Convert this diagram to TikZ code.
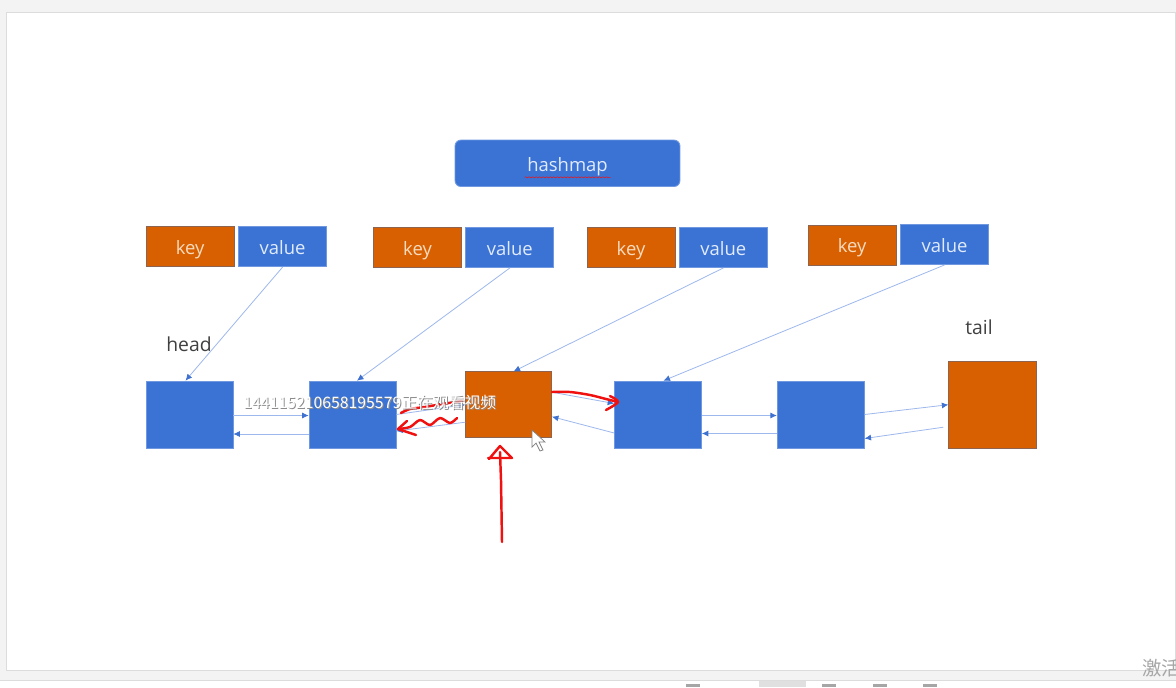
\documentclass[tikz,border=0pt]{standalone}
\usepackage{fontspec}
\setmainfont{Open Sans}
\newfontfamily\cjkfont{Noto Sans CJK SC}
\usepackage{tikz}
\usetikzlibrary{
    positioning,
    arrows.meta,
    decorations.pathmorphing,
}
\definecolor{slidegray}{HTML}{F3F3F3}
\definecolor{edgegray}{HTML}{DCDCDC}
\definecolor{boxblue}{HTML}{3A73D4}
\definecolor{boxorange}{HTML}{D96000}
\definecolor{keyedge}{HTML}{8C6450}
\definecolor{valueedge}{HTML}{6F98E0}
\definecolor{keytext}{HTML}{F7DCC0}
\definecolor{valuetext}{HTML}{E2EBFB}
\definecolor{linkblue}{HTML}{9DB8EC}
\definecolor{arrowblue}{HTML}{3F72D0}
\definecolor{captiongray}{HTML}{404040}
\definecolor{penred}{HTML}{F01010}
\tikzset{
    % Box styles
    kv box/.style={rectangle, minimum width=1.76cm, minimum height=0.8cm, inner sep=0pt,
                   font=\fontsize{10.5}{12}\selectfont, text height=0.9em, text depth=0pt,
                   line width=0.5pt},
    key box/.style={kv box, fill=boxorange, draw=keyedge, text=keytext},
    value box/.style={kv box, fill=boxblue, draw=valueedge, text=valuetext},
    list node/.style={rectangle, minimum width=1.74cm, minimum height=1.34cm, inner sep=0pt,
                      fill=boxblue, draw=valueedge, line width=0.4pt},
    list end/.style={list node, fill=boxorange, draw=keyedge},
    % Arrow styles
    link arrow/.style={-{Latex[length=1.3mm, width=1.2mm, color=arrowblue]}, draw=linkblue, line width=0.45pt},
    pen stroke/.style={draw=penred, line width=1.4pt, line cap=round, line join=round},
    % Annotation styles
    caption/.style={font=\fontsize{11}{13}\selectfont, text=captiongray},
    overlay text/.style={font=\cjkfont\fontsize{9}{10}\selectfont, anchor=west, inner sep=0pt},
}

\begin{document}
\begin{tikzpicture}[x=0.02cm, y=-0.02cm]
    \useasboundingbox (0, 0) rectangle (1176, 687);

    % Slide
    \fill[slidegray] (0, 0) rectangle (1176, 687);
    \fill[white] (0, 681) rectangle (1176, 687);
    \draw[edgegray] (0, 680) -- (1176, 680);
    \draw[edgegray, fill=white] (6, 12) rectangle (1175, 670);

    % Hashmap
    \node[kv box, rounded corners=0.12cm, fill=boxblue, draw=valueedge,
          minimum width=4.5cm, minimum height=0.93cm, text=valuetext] (hashmap) at (567.5, 163.3) {hashmap};
    \draw[penred, line width=0.3pt, decorate, decoration={snake, amplitude=0.3pt, segment length=2pt}]
        ([xshift=-0.86cm, yshift=-0.28cm]hashmap.center) -- ([xshift=0.86cm, yshift=-0.28cm]hashmap.center);

    % Entries
    \node[key box] (key1) at (190.2, 246.7) {key};
    \node[value box, right=0.07cm of key1] (val1) {value};
    \node[key box] (key2) at (417.5, 247.5) {key};
    \node[value box, right=0.07cm of key2] (val2) {value};
    \node[key box] (key3) at (631, 247.5) {key};
    \node[value box, right=0.07cm of key3] (val3) {value};
    \node[key box] (key4) at (852.2, 245) {key};
    \node[value box, right=0.07cm of key4, yshift=0.01cm] (val4) {value};

    % Linked list
    \node[list node] (node1) at (189.5, 414.5) {};
    \node[list node] (node2) at (352.5, 414.5) {};
    \node[list end, minimum width=1.72cm, minimum height=1.32cm] (node3) at (508.6, 404.7) {};
    \node[list node] (node4) at (658, 414.5) {};
    \node[list node] (node5) at (820.7, 414.5) {};
    \node[list end, minimum width=1.76cm, minimum height=1.74cm] (node6) at (992.7, 404.7) {};

    \node[caption] (head) at (189, 344) {head};
    \node[caption] (tail) at (979, 327) {tail};

    % Map to list
    \draw[link arrow] (val1.south) -- ([xshift=-0.08cm]node1.north);
    \draw[link arrow] (val2.south) -- ([xshift=0.09cm]node2.north);
    \draw[link arrow] (val3.south) -- ([xshift=0.1cm]node3.north);
    \draw[link arrow] (val4.south) -- ([xshift=0.11cm]node4.north);

    % Next and prev
    \draw[link arrow] ([yshift=-0.02cm]node1.east) -- ([yshift=-0.02cm]node2.west);
    \draw[link arrow] ([yshift=-0.39cm]node2.west) -- ([yshift=-0.39cm]node1.east);
    \draw[link arrow] (node2.east) -- (node3.west);
    \draw[link arrow] ([yshift=-0.35cm]node3.west) -- ([yshift=-0.33cm]node2.east);
    \draw[link arrow] ([yshift=0.25cm]node3.east) -- ([yshift=0.22cm]node4.west);
    \draw[link arrow] ([yshift=-0.37cm]node4.west) -- ([yshift=-0.24cm]node3.east);
    \draw[link arrow] ([yshift=-0.02cm]node4.east) -- ([yshift=-0.02cm]node5.west);
    \draw[link arrow] ([yshift=-0.38cm]node5.west) -- ([yshift=-0.38cm]node4.east);
    \draw[link arrow] (node5.east) -- (node6.west);
    \draw[link arrow] ([xshift=-0.1cm, yshift=-0.45cm]node6.west) -- ([yshift=-0.48cm]node5.east);

    % Hand drawn marks
    \draw[pen stroke] plot[smooth] coordinates {(401, 413) (410, 409) (425, 407) (442, 404) (462, 401)};
    \draw[pen stroke] plot[smooth] coordinates {(457, 418) (450, 423) (440, 418) (430, 425) (420, 420) (410, 427) (398, 429)};
    \draw[pen stroke] (407, 421) -- (398, 429) -- (416, 435);
    \draw[pen stroke] plot[smooth] coordinates {(552, 392) (570, 392) (590, 395) (606, 399) (618, 402)};
    \draw[pen stroke] plot[smooth] coordinates {(610, 396) (618, 402) (606, 410)};
    \draw[pen stroke] (502, 542) -- (501, 480) -- (500, 452);
    \draw[pen stroke] (489, 459) -- (500, 446) -- (512, 458) -- (488, 458);

    % Pointer
    \draw[gray, fill=white, line width=0.4pt] (532, 430) -- (532, 447) -- (536, 443) -- (540, 451)
        -- (543, 450) -- (539, 442) -- (545, 442) -- cycle;

    % Overlay texts
    \node[overlay text, text=black!45] at (244, 403) {144115210658195579正在观看视频};
    \node[overlay text, text=white] at (243, 402) {144115210658195579正在观看视频};
    \node[text=black!35, font=\cjkfont\fontsize{11}{13}\selectfont, anchor=west, inner sep=0pt] at (1142, 668) {激活};

    % Task bar
    \foreach \x in {686, 822, 873, 923}
        \fill[black!35] (\x, 684) rectangle ++(14, 3);
    \fill[black!12] (759, 681) rectangle (806, 687);
\end{tikzpicture}
\end{document}
